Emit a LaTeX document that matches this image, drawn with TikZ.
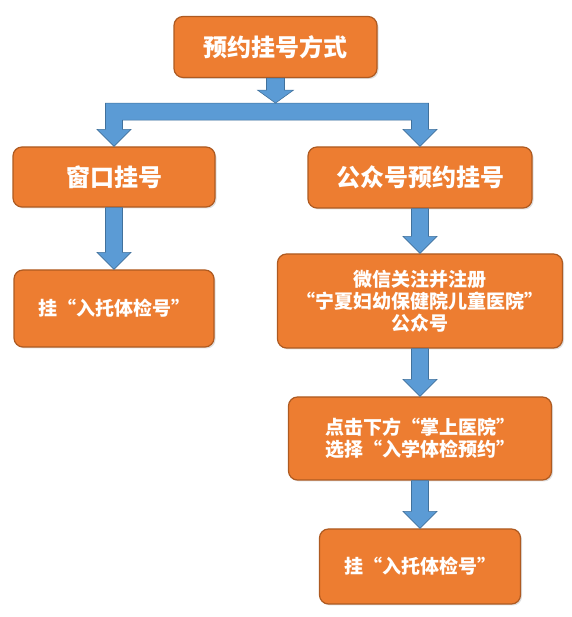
\documentclass[tikz,border=0pt]{standalone}
\usepackage{fontspec}
\newfontfamily\cjk{Noto Sans CJK SC}
\usetikzlibrary{calc,shadows}
\definecolor{boxorange}{RGB}{237,125,49}
\definecolor{boxedge}{RGB}{174,90,33}
\definecolor{arrowblue}{RGB}{91,155,213}
\definecolor{arrowedge}{RGB}{65,113,156}
\newcommand{\blockdown}[2]{%
  \filldraw[arrowbody] ($(#1)+(-8.5,0)$) -- ($(#2)+(-8.5,17)$) -- ($(#2)+(-17,17)$) -- (#2)
    -- ($(#2)+(17,17)$) -- ($(#2)+(8.5,17)$) -- ($(#1)+(8.5,0)$) -- cycle;}

\begin{document}
\begin{tikzpicture}[x=1pt,y=1pt,
    stepbox/.style={rounded corners=9pt, fill=boxorange, draw=boxedge, line width=1.2pt,
      text=white, font=\cjk\bfseries\fontsize{19}{22}\selectfont, align=center, inner sep=0pt,
      drop shadow={shadow xshift=1.5pt, shadow yshift=-1.5pt, opacity=0.25}},
    bigbox/.style={stepbox, font=\cjk\bfseries\fontsize{24}{28}\selectfont},
    arrowbody/.style={fill=arrowblue, draw=arrowedge, line width=0.6pt}]
    \useasboundingbox (0,0) rectangle (571,617);
    % boxes
    \node[bigbox, minimum width=203pt, minimum height=61pt] (way) at (275.5,570) {预约挂号方式};
    \node[bigbox, minimum width=202pt, minimum height=60pt] (window) at (114,440) {窗口挂号};
    \node[bigbox, minimum width=224pt, minimum height=61pt] (wechat) at (420,439.5) {公众号预约挂号};
    \node[stepbox, minimum width=200pt, minimum height=77pt] (ticketL) at (114,308.5) {挂“入托体检号”};
    \node[stepbox, minimum width=285pt, minimum height=94pt] (follow) at (420,316)
        {微信关注并注册\\“宁夏妇幼保健院儿童医院”\\公众号};
    \node[stepbox, minimum width=263pt, minimum height=83pt] (select) at (420,178.5)
        {点击下方“掌上医院”\\选择“入学体检预约”};
    \node[stepbox, minimum width=201pt, minimum height=75pt] (ticketR) at (420,50.5) {挂“入托体检号”};
    % fork under the first box
    \coordinate (fork) at ($(way.south)+(0,-25)$);
    \filldraw[arrowbody] ($(window.north |- fork)+(-8.5,0)$) -- ($(wechat.north |- fork)+(8.5,0)$)
        -- ($(wechat.north)+(8.5,17)$) -- ($(wechat.north)+(17,17)$) -- (wechat.north)
        -- ($(wechat.north)+(-17,17)$) -- ($(wechat.north)+(-8.5,17)$)
        -- ($(wechat.north |- fork)+(-8.5,-17)$) -- ($(window.north |- fork)+(8.5,-17)$)
        -- ($(window.north)+(8.5,17)$) -- ($(window.north)+(17,17)$) -- (window.north)
        -- ($(window.north)+(-17,17)$) -- ($(window.north)+(-8.5,17)$) -- cycle;
    \filldraw[arrowbody] ($(way.south)+(-9,0)$) -- ($(fork)+(-9,13)$) -- ($(fork)+(-18,13)$) -- (fork)
        -- ($(fork)+(18,13)$) -- ($(fork)+(9,13)$) -- ($(way.south)+(9,0)$) -- cycle;
    % arrows between steps
    \blockdown{window.south}{ticketL.north}
    \blockdown{wechat.south}{follow.north}
    \blockdown{follow.south}{select.north}
    \blockdown{select.south}{ticketR.north}
\end{tikzpicture}
\end{document}
